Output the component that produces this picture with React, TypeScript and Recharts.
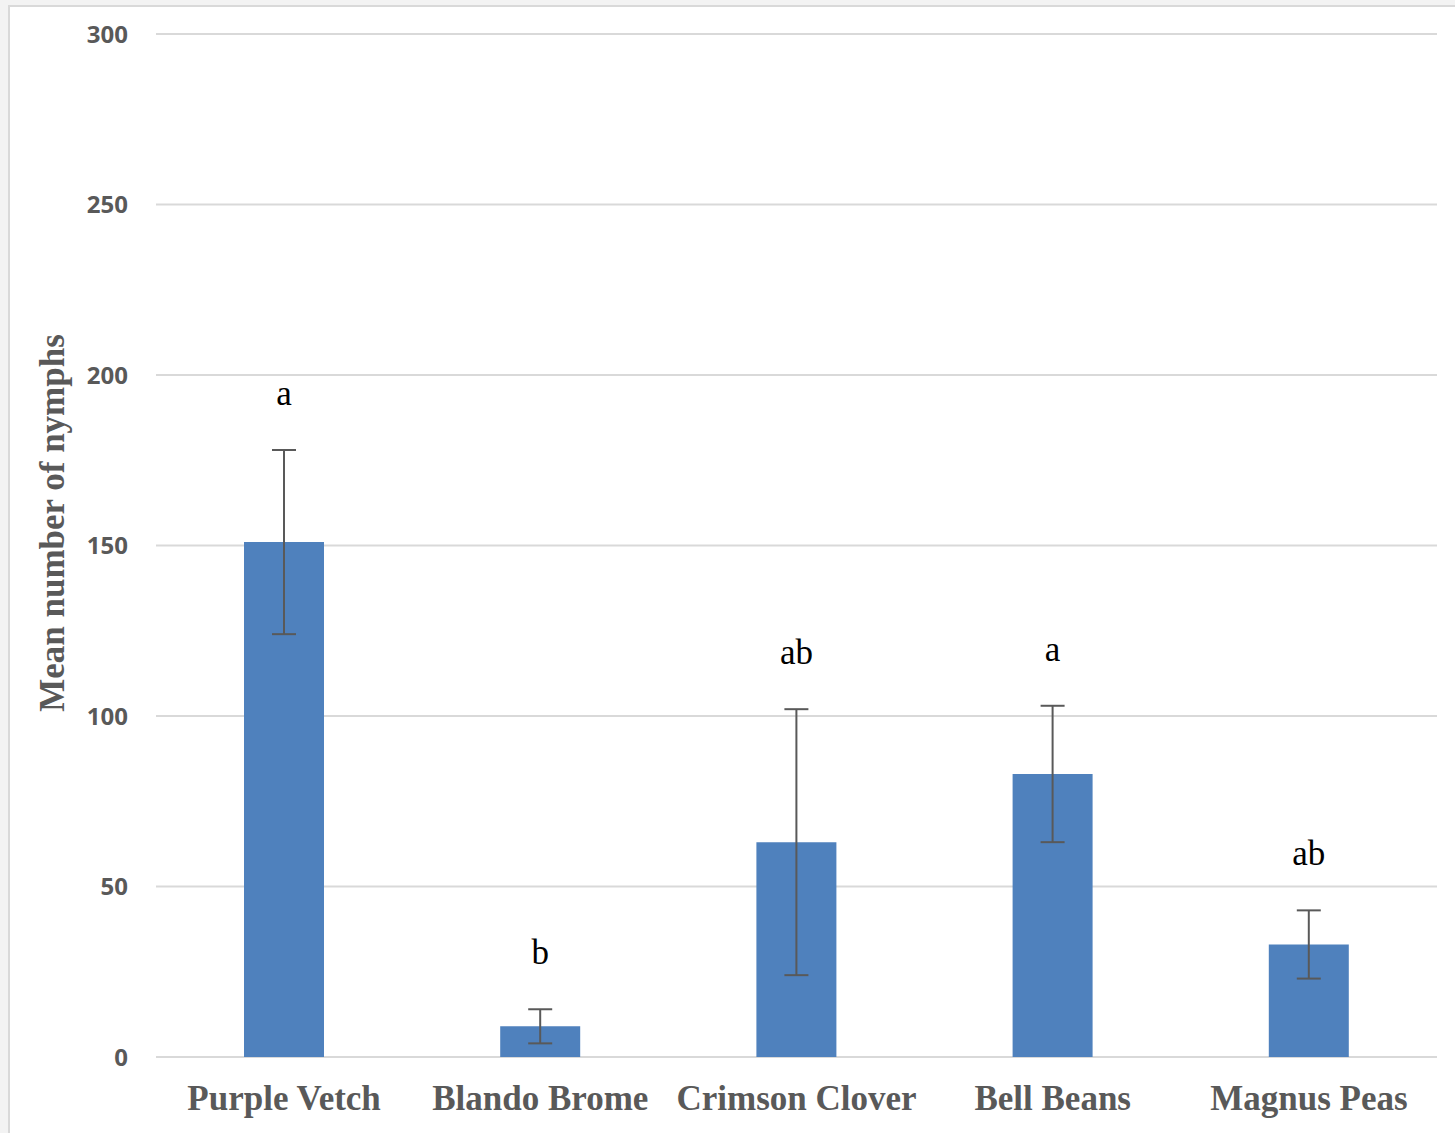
import React from "react";
import {
  BarChart,
  Bar,
  XAxis,
  YAxis,
  CartesianGrid,
  ErrorBar,
  LabelList,
} from "recharts";

const crops = ["Purple Vetch", "Blando Brome", "Crimson Clover", "Bell Beans", "Magnus Peas"];
const meanNymphs = [151, 9, 63, 83, 33];
const stdErr = [27, 5, 39, 20, 10];
const groups = ["a", "b", "ab", "a", "ab"];
const yTicks = [0, 50, 100, 150, 200, 250, 300];

const data = crops.map((name, i) => ({
  name,
  mean: meanNymphs[i],
  err: stdErr[i],
}));

const GREY = "#595959";
const SERIF = "'Liberation Serif', 'Times New Roman', serif";

// significance letter sits above the error bar cap
const GroupLetter = (props: any) => {
  const { x, y, width, height, index } = props;
  const perUnit = height / meanNymphs[index];
  const capY = y - stdErr[index] * perUnit;
  return (
    <text
      x={x + width / 2}
      y={capY - 45}
      textAnchor="middle"
      fontFamily={SERIF}
      fontSize={35}
      fill="#000"
    >
      {groups[index]}
    </text>
  );
};

const YTitle = () => (
  <text
    transform="translate(52, 523) rotate(-90)"
    textAnchor="middle"
    dominantBaseline="central"
    fill={GREY}
    fontSize={35}
    fontWeight={700}
    fontFamily={SERIF}
  >
    Mean number of nymphs
  </text>
);

export default function App() {
  return (
    <div
      style={{
        position: "absolute",
        left: 0,
        top: 0,
        width: 1455,
        height: 1133,
        background: "#f3f3f3",
        overflow: "hidden",
      }}
    >
      <div
        style={{
          position: "absolute",
          left: 8,
          top: 5,
          width: 1460,
          height: 1140,
          background: "#fff",
          border: "2px solid #d9d9d9",
        }}
      />
      <div style={{ position: "absolute", left: 0, top: 0 }}>
        <BarChart
          width={1455}
          height={1133}
          data={data}
          margin={{ top: 34, right: 18, left: 56, bottom: 26 }}
        >
          <CartesianGrid vertical={false} stroke="#d9d9d9" strokeWidth={2} />
          <XAxis
            dataKey="name"
            axisLine={false}
            tickLine={false}
            tickSize={0}
            tickMargin={28}
            height={50}
            interval={0}
            tick={{ fill: GREY, fontSize: 35, fontWeight: 700, fontFamily: SERIF }}
          />
          <YAxis
            domain={[0, 300]}
            ticks={yTicks}
            width={100}
            axisLine={false}
            tickLine={false}
            tickSize={0}
            tickMargin={28}
            tick={{ fill: GREY, fontSize: 24, fontWeight: 700, fontFamily: "'Open Sans', sans-serif" }}
            label={<YTitle />}
          />
          <Bar dataKey="mean" fill="#4f81bd" barSize={80} isAnimationActive={false}>
            <ErrorBar dataKey="err" stroke={GREY} strokeWidth={2} width={12} />
            <LabelList dataKey="mean" content={<GroupLetter />} />
          </Bar>
        </BarChart>
      </div>
    </div>
  );
}
